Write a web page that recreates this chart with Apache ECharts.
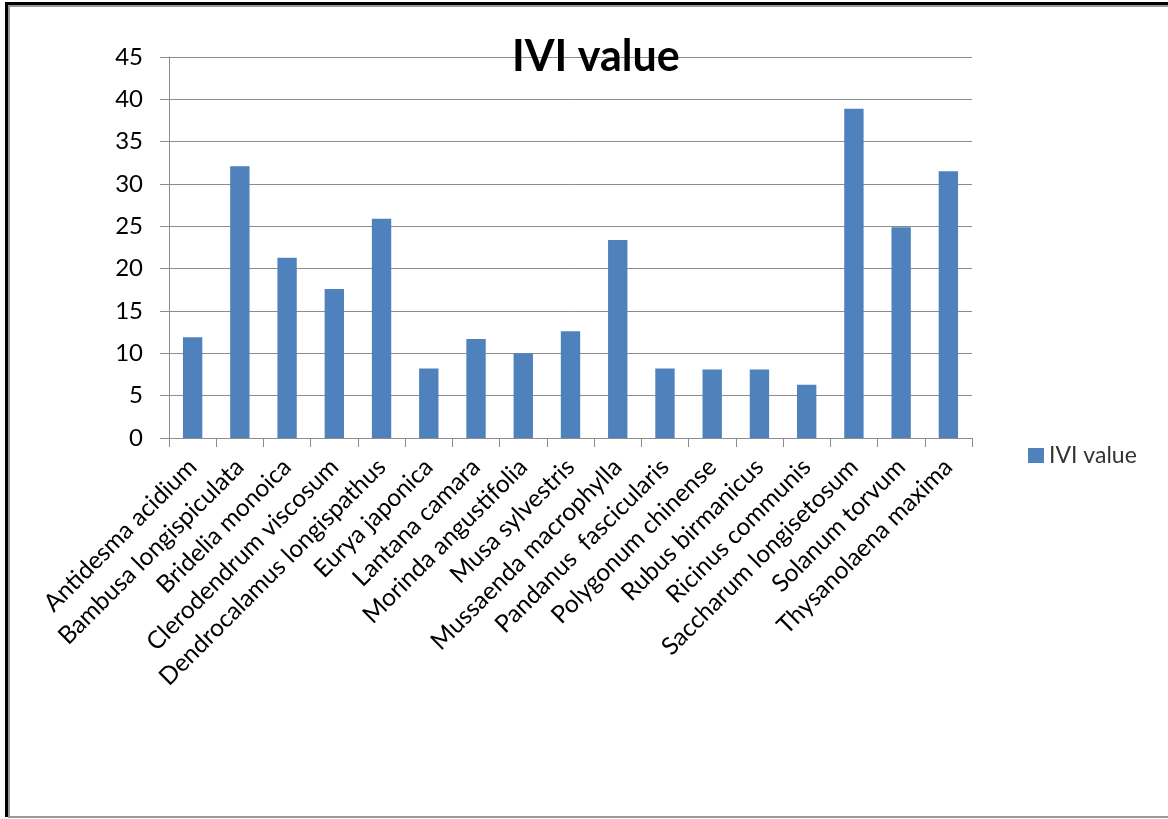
<!DOCTYPE html>
<html>
<head>
<meta charset="utf-8">
<script src="https://cdn.jsdelivr.net/npm/echarts@6/dist/echarts.min.js"></script>
<style>
  html, body { margin: 0; padding: 0; background: #fff; }
  #frame {
    position: absolute; left: 5px; top: 2px; width: 1163px; height: 815px;
    border-left: 3px solid #000; border-top: 3px solid #000; box-sizing: border-box;
  }
  #inner {
    position: absolute; left: 8px; top: 5px; width: 1160px; height: 813px;
    border-left: 2px solid #999; border-top: 2px solid #999; border-bottom: 2px solid #999;
    box-sizing: border-box;
  }
  #chart { position: absolute; left: 0; top: 0; width: 1168px; height: 819px; }
</style>
</head>
<body>
<div id="frame"></div>
<div id="inner"></div>
<div id="chart"></div>
<script>
// species names
const categories = [
  "Antidesma acidium", "Bambusa longispiculata", "Bridelia monoica",
  "Clerodendrum viscosum", "Dendrocalamus longispathus", "Eurya japonica",
  "Lantana camara", "Morinda angustifolia", "Musa sylvestris",
  "Mussaenda macrophylla", "Pandanus  fascicularis", "Polygonum chinense",
  "Rubus birmanicus", "Ricinus communis", "Saccharum longisetosum",
  "Solanum torvum", "Thysanolaena maxima"
];
const iviValues = [11.9, 32.1, 21.3, 17.6, 25.9, 8.2, 11.7, 10.0, 12.6, 23.4, 8.2, 8.1, 8.1, 6.3, 38.9, 24.9, 31.5];
const yTicks = { min: 0, max: 45, interval: 5 };

const font = "Lato, 'Open Sans', sans-serif";
const chart = echarts.init(document.getElementById("chart"));
chart.setOption({
  backgroundColor: "transparent",
  animation: false,
  title: {
    text: "IVI value",
    left: 507,
    top: 31,
    textStyle: { fontFamily: font, fontSize: 43, fontWeight: "bold", color: "#000" }
  },
  legend: {
    left: 1023,
    top: 439,
    itemWidth: 16,
    itemHeight: 15,
    itemGap: 5,
    icon: "rect",
    textStyle: { fontFamily: font, fontSize: 23, color: "#333" },
    data: ["IVI value"]
  },
  grid: { left: 169, right: 196, top: 57, bottom: 381 },
  xAxis: {
    type: "category",
    data: categories,
    axisLine: { lineStyle: { color: "#8c8c8c", width: 1 } },
    axisTick: { show: true, length: 9, lineStyle: { color: "#8c8c8c" } },
    axisLabel: {
      interval: 0,
      rotate: 45,
      margin: 25,
      fontFamily: font,
      fontSize: 24.5,
      color: "#000"
    }
  },
  yAxis: {
    type: "value",
    min: yTicks.min,
    max: yTicks.max,
    interval: yTicks.interval,
    axisLine: { show: true, lineStyle: { color: "#8c8c8c" } },
    axisTick: { show: true, length: 9, lineStyle: { color: "#8c8c8c" } },
    axisLabel: { margin: 26, fontFamily: font, fontSize: 24, color: "#000" },
    splitLine: { lineStyle: { color: "#8c8c8c", width: 1 } }
  },
  series: [
    {
      name: "IVI value",
      type: "bar",
      barWidth: "41%",
      itemStyle: { color: "#4F81BD" },
      data: iviValues
    }
  ]
});
</script>
</body>
</html>
